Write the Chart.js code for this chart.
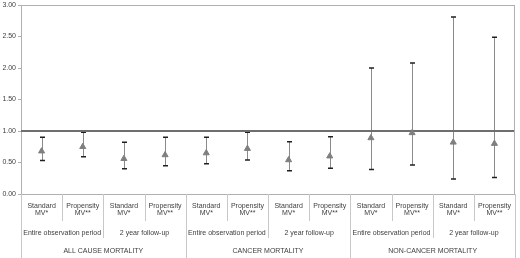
<!DOCTYPE html>
<html>
<head>
<meta charset="utf-8">
<script src="https://cdn.jsdelivr.net/npm/chart.js@4"></script>
<style>
  html, body { margin: 0; padding: 0; background: #fff; }
  #wrap { width: 520px; height: 258px; }
</style>
</head>
<body>
<div id="wrap"><canvas id="mortalityChart" width="520" height="258"></canvas></div>
<script>
// values
var methods = ['Standard\nMV*', 'Propensity\nMV**', 'Standard\nMV*', 'Propensity\nMV**',
               'Standard\nMV*', 'Propensity\nMV**', 'Standard\nMV*', 'Propensity\nMV**',
               'Standard\nMV*', 'Propensity\nMV**', 'Standard\nMV*', 'Propensity\nMV**'];
var periods = ['Entire observation period', '2 year follow-up',
               'Entire observation period', '2 year follow-up',
               'Entire observation period', '2 year follow-up'];
var outcomes = ['ALL CAUSE MORTALITY', 'CANCER MORTALITY', 'NON-CANCER MORTALITY'];
var estimate = [0.68, 0.75, 0.56, 0.62, 0.65, 0.72, 0.54, 0.60, 0.89, 0.97, 0.82, 0.80];
var lower    = [0.53, 0.59, 0.40, 0.45, 0.48, 0.54, 0.37, 0.41, 0.39, 0.46, 0.24, 0.26];
var upper    = [0.90, 0.98, 0.82, 0.90, 0.90, 0.98, 0.83, 0.91, 2.00, 2.08, 2.81, 2.49];
var refValue = 1.00;

document.addEventListener("DOMContentLoaded", function() {
  var n = estimate.length;
  var points = estimate.map(function(v, i) { return {x: i + 0.5, y: v}; });
  var font = '7px "Liberation Sans", Arial, sans-serif';
  var textColor = '#404040';
  var axisColor = '#b0b0b0';

  // error bars, drawn under the markers
  var errorBars = {
    id: 'errorBars',
    beforeDatasetsDraw: function(chart) {
      var ctx = chart.ctx, xs = chart.scales.x, ys = chart.scales.y;
      ctx.save();
      for (var i = 0; i < n; i++) {
        var px = Math.round(xs.getPixelForValue(i + 0.5)) + 0.5;
        var top = ys.getPixelForValue(upper[i]);
        var bot = ys.getPixelForValue(lower[i]);
        ctx.strokeStyle = '#8a8a8a';
        ctx.lineWidth = 1;
        ctx.beginPath(); ctx.moveTo(px, top); ctx.lineTo(px, bot); ctx.stroke();
        ctx.strokeStyle = '#202020';
        ctx.lineWidth = 1.5;
        ctx.beginPath();
        ctx.moveTo(px - 2.5, top); ctx.lineTo(px + 2.5, top);
        ctx.moveTo(px - 2.5, bot); ctx.lineTo(px + 2.5, bot);
        ctx.stroke();
      }
      ctx.restore();
    }
  };

  // frame + multi-level category axis
  var categoryAxis = {
    id: 'categoryAxis',
    afterDraw: function(chart) {
      var ctx = chart.ctx, xs = chart.scales.x, a = chart.chartArea;
      var h = chart.height;
      ctx.save();
      ctx.strokeStyle = axisColor;
      ctx.lineWidth = 1;
      ctx.beginPath();
      ctx.moveTo(a.left, a.top + 0.5); ctx.lineTo(a.right, a.top + 0.5);
      ctx.moveTo(a.right - 0.5, a.top); ctx.lineTo(a.right - 0.5, a.bottom);
      ctx.moveTo(a.left, a.bottom + 0.5); ctx.lineTo(a.right, a.bottom + 0.5);
      ctx.stroke();

      var base = a.bottom;
      ctx.strokeStyle = '#c8c8c8';
      for (var i = 0; i <= n; i++) {
        var px = Math.round(xs.getPixelForValue(i)) + 0.5;
        var end = base + 27;
        if (i % 2 === 0) end = base + 44;
        if (i % 4 === 0) end = h;
        ctx.beginPath(); ctx.moveTo(px, base); ctx.lineTo(px, end); ctx.stroke();
      }

      ctx.fillStyle = textColor;
      ctx.font = font;
      ctx.textAlign = 'center';
      ctx.textBaseline = 'middle';
      methods.forEach(function(m, i) {
        var cx = xs.getPixelForValue(i + 0.5);
        var parts = m.split('\n');
        ctx.fillText(parts[0], cx, base + 12);
        ctx.fillText(parts[1], cx, base + 19);
      });
      periods.forEach(function(p, i) {
        ctx.fillText(p, xs.getPixelForValue(i * 2 + 1), base + 39);
      });
      outcomes.forEach(function(o, i) {
        ctx.fillText(o, xs.getPixelForValue(i * 4 + 2), base + 57);
      });
      ctx.restore();
    }
  };

  var ctx = document.getElementById('mortalityChart').getContext('2d');
  var mortalityChart = new Chart(ctx, {
    type: 'scatter',
    data: {
      datasets: [{
        data: points,
        pointStyle: 'triangle',
        pointRadius: 3.5,
        pointBackgroundColor: '#7f7f7f',
        pointBorderColor: '#7f7f7f',
        pointBorderWidth: 1
      }, {
        type: 'line',
        data: [{x: 0, y: refValue}, {x: n, y: refValue}],
        borderColor: '#6e6e6e',
        borderWidth: 2,
        pointRadius: 0
      }]
    },
    options: {
      responsive: false,
      animation: false,
      layout: { padding: { top: 4, right: 2, bottom: 64, left: 0 } },
      plugins: {
        legend: { display: false },
        tooltip: { enabled: false }
      },
      scales: {
        x: {
          type: 'linear',
          min: 0,
          max: n,
          display: false
        },
        y: {
          min: 0,
          max: 3,
          ticks: {
            stepSize: 0.5,
            color: textColor,
            font: { family: '"Liberation Sans", Arial, sans-serif', size: 7 },
            padding: 2,
            callback: function(v) { return v.toFixed(2); }
          },
          grid: {
            drawOnChartArea: false,
            tickLength: 3,
            color: axisColor
          },
          border: { color: axisColor },
          afterFit: function(scale) {
            scale.width = 21;
            scale.paddingTop = 0;
            scale.paddingBottom = 0;
          }
        }
      }
    },
    plugins: [errorBars, categoryAxis]
  });
});
</script>
</body>
</html>
